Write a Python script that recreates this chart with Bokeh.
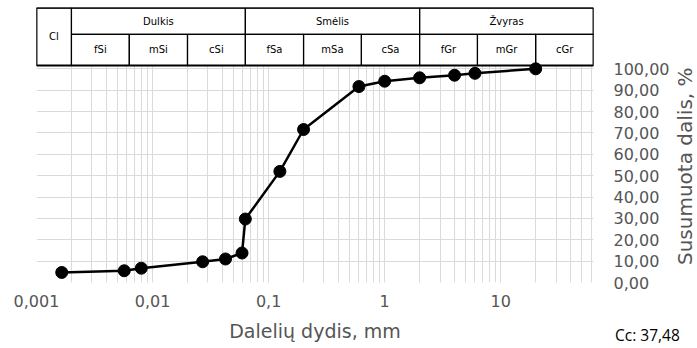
import math
from bokeh.plotting import figure
from bokeh.layouts import column
from bokeh.models import (Range1d, FixedTicker, CustomJSTickFormatter, Div,
                          ColumnDataSource)
from bokeh.core.properties import value
from bokeh.embed import file_html
from bokeh.resources import INLINE

# ---------------- data ----------------
sizes = [0.00165, 0.0057, 0.008, 0.027, 0.0425, 0.059, 0.063, 0.125, 0.2, 0.6,
         1.0, 2.0, 4.0, 6.0, 20.0]
passing = [4.7, 5.5, 6.7, 9.7, 11.0, 13.8, 29.7, 52.0, 71.6, 91.7,
           94.2, 95.8, 97.0, 97.9, 100.0]

x_ticks = [0.001, 0.01, 0.1, 1, 10]
y_ticks = [0, 10, 20, 30, 40, 50, 60, 70, 80, 90, 100]

clay_label = "Cl"
clay_edges = [0.001, 0.002]
sub_labels = ["fSi", "mSi", "cSi", "fSa", "mSa", "cSa", "fGr", "mGr", "cGr"]
sub_edges = [0.002, 0.0063, 0.02, 0.063, 0.2, 0.63, 2, 6.3, 20, 63]
group_labels = ["Dulkis", "Smėlis", "Žvyras"]
group_edges = [0.002, 0.063, 2, 63]

x_label = "Dalelių dydis, mm"
y_label = "Susumuota dalis, %"
note = "Cc: 37,48"

X_MIN, X_MAX = 0.001, 63
# header table rows (placed above the 0-100 % area)
T_BOT, T_MID, T_TOP = 101.55, 116.1, 128.5
Y_TOP = 128.7

FONT = "DejaVu Sans"
GREY = "#555555"
GRID = "#dadada"

p = figure(width=697, height=348, x_axis_type="log",
           x_range=Range1d(X_MIN, X_MAX), y_range=Range1d(0, Y_TOP),
           y_axis_location="right", output_backend="svg",
           toolbar_location=None, min_border_left=36, min_border_right=104,
           min_border_top=7, min_border_bottom=66)
p.outline_line_color = None
p.background_fill_color = "white"

minor = [m * d for d in [0.001, 0.01, 0.1, 1, 10] for m in range(2, 10)
         if m * d <= X_MAX]
p.xaxis.ticker = FixedTicker(ticks=x_ticks, minor_ticks=minor)
p.yaxis.ticker = FixedTicker(ticks=y_ticks)
p.xaxis.formatter = CustomJSTickFormatter(
    code="return tick.toString().replace('.', ',');")
p.yaxis.formatter = CustomJSTickFormatter(
    code="return tick.toFixed(2).replace('.', ',');")

for ax in (p.xaxis[0], p.yaxis[0]):
    ax.axis_line_color = None
    ax.major_tick_line_color = None
    ax.minor_tick_line_color = None
    ax.major_label_text_color = GREY
    ax.major_label_text_font = FONT
    ax.major_label_text_font_size = "16px"
    ax.axis_label_text_color = GREY
    ax.axis_label_text_font = FONT
    ax.axis_label_text_font_style = "normal"

p.xaxis.major_label_standoff = 6
p.xaxis.axis_label = x_label
p.xaxis.axis_label_standoff = 10
p.xaxis.axis_label_text_font_size = "19px"
p.yaxis.major_label_standoff = 14

p.xgrid.grid_line_color = GRID
p.xgrid.minor_grid_line_color = GRID
p.ygrid.grid_line_color = GRID

# ---------------- header table ----------------
sub_src = ColumnDataSource(dict(
    left=sub_edges[:-1], right=sub_edges[1:],
    xc=[math.sqrt(a * b) for a, b in zip(sub_edges[:-1], sub_edges[1:])],
    label=sub_labels))
grp_src = ColumnDataSource(dict(
    left=group_edges[:-1], right=group_edges[1:],
    xc=[math.sqrt(a * b) for a, b in zip(group_edges[:-1], group_edges[1:])],
    label=group_labels))

p.quad(left=[X_MIN], right=[X_MAX], bottom=[T_BOT], top=[T_TOP],
       fill_color="white", line_color=None)
p.quad(left="left", right="right", bottom=T_BOT, top=T_MID, source=sub_src,
       fill_color=None, line_color="black", line_width=1.2)
p.quad(left="left", right="right", bottom=T_MID, top=T_TOP, source=grp_src,
       fill_color=None, line_color="black", line_width=1.2)
p.quad(left=[clay_edges[0]], right=[clay_edges[1]], bottom=[T_BOT],
       top=[T_TOP], fill_color=None, line_color="black", line_width=1.2)
p.quad(left=[X_MIN], right=[X_MAX], bottom=[T_BOT], top=[T_TOP],
       fill_color=None, line_color="black", line_width=1.8)

p.text(x="xc", y=(T_BOT + T_MID) / 2, text="label", source=sub_src,
       text_align="center", text_baseline="middle", text_font_size="10px",
       text_font=value(FONT), text_color="black")
p.text(x="xc", y=(T_MID + T_TOP) / 2, text="label", source=grp_src,
       text_align="center", text_baseline="middle", text_font_size="10px",
       text_font=value(FONT), text_color="black")
p.text(x=[math.sqrt(clay_edges[0] * clay_edges[1])], y=[(T_BOT + T_TOP) / 2],
       text=[clay_label], text_align="center", text_baseline="middle",
       text_font_size="10px", text_font=value(FONT), text_color="black")

# ---------------- data series ----------------
p.line(sizes, passing, line_color="black", line_width=2.5)
p.scatter(sizes, passing, size=12, fill_color="black", line_color="black")

# ---------------- note under the chart, lower right ----------------
note_div = Div(text=note, margin=(-22, 0, 0, 615),
               styles={"font-family": "Open Sans", "font-size": "15.5px",
                       "color": "black", "line-height": "18px",
                       "white-space": "nowrap"})

# ---------------- right-hand title, reading bottom to top ----------------
title_div = Div(text=y_label, width=24, height=210, margin=(-283, 0, 0, 673),
                styles={"font-family": FONT, "font-size": "20px",
                        "color": GREY, "line-height": "24px",
                        "white-space": "nowrap", "writing-mode": "vertical-rl",
                        "transform": "rotate(180deg)", "text-align": "center"})

layout = column(p, note_div, title_div, spacing=0)
open("out.html", "w").write(file_html(layout, INLINE))
